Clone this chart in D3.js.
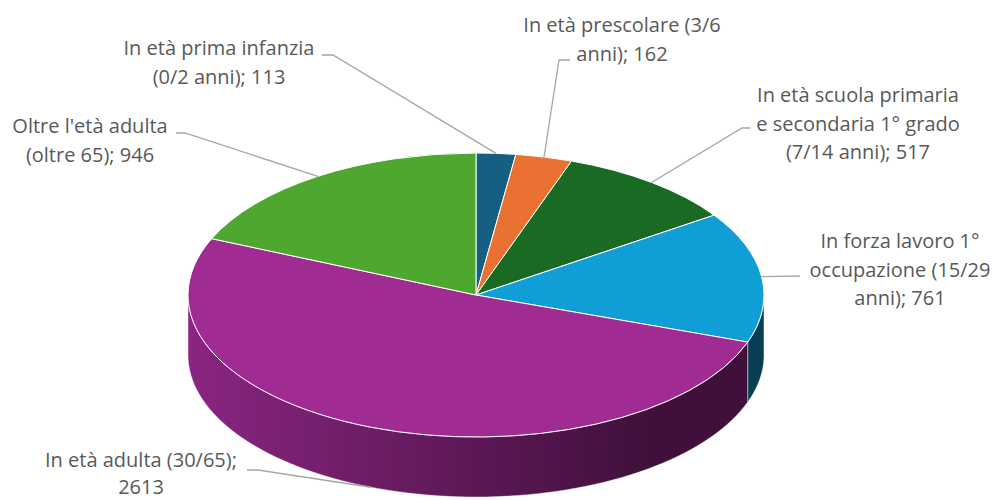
<!DOCTYPE html>
<html>
<head>
<meta charset="utf-8">
<script src="https://cdn.jsdelivr.net/npm/d3@7"></script>
<style>
  html, body { margin: 0; padding: 0; background: #fff; }
  svg { display: block; }
</style>
</head>
<body>
<svg id="chart" width="996" height="500"></svg>
<script>
// ---- data ----
const categories = [
  "In età prima infanzia (0/2 anni)",
  "In età prescolare (3/6 anni)",
  "In età scuola primaria e secondaria 1° grado (7/14 anni)",
  "In forza lavoro 1° occupazione (15/29 anni)",
  "In età adulta (30/65)",
  "Oltre l'età adulta (oltre 65)"
];
const values = [113, 162, 517, 761, 2613, 946];
const labelLines = [
  ["In età prima infanzia", "(0/2 anni); 113"],
  ["In età prescolare (3/6", "anni); 162"],
  ["In età scuola primaria", "e secondaria 1° grado", "(7/14 anni); 517"],
  ["In forza lavoro 1°", "occupazione (15/29", "anni); 761"],
  ["In età adulta (30/65);", "2613"],
  ["Oltre l'età adulta", "(oltre 65); 946"]
];
const topColors = ["#156082", "#E97132", "#196B24", "#0F9ED5", "#A02B93", "#4EA72E"];
const sideStops = [
  ["#0e4460", "#082f42"],
  ["#b5561f", "#6e3112"],
  ["#145a1c", "#0b3510"],
  ["#083e52", "#083e52"],
  ["#8a2581", "#40103b"],
  ["#3d8724", "#244f15"]
];

// ---- layout ----
const cx = 476, cy = 295, rx = 288, ry = 142, depth = 60;
// label layout: text center x, first baseline y, line spacing, elbow points
const labelLayout = [
  { x: 219, y: 55,  lh: 28.5, elbow: [[322, 55], [333, 55]] },
  { x: 622, y: 32,  lh: 28.5, elbow: [[570, 60], [559, 60]] },
  { x: 858, y: 102, lh: 28.5, elbow: [[750, 128], [742, 128]] },
  { x: 900, y: 248, lh: 28.5, elbow: [[800, 276]] },
  { x: 141, y: 467, lh: 27,   elbow: [[247, 470], [258, 470]] },
  { x: 90,  y: 133, lh: 28.5, elbow: [[176, 133], [185, 133]] }
];

const svg = d3.select("#chart");
const defs = svg.append("defs");

const pie = d3.pie().sort(null).value(d => d)
  .startAngle(0).endAngle(2 * Math.PI);
const arcs = pie(values);

const px = t => cx + rx * Math.sin(t);
const py = t => cy - ry * Math.cos(t);

// gradients for side walls
arcs.forEach((a, i) => {
  const g = defs.append("linearGradient")
    .attr("id", "side" + i)
    .attr("gradientUnits", "userSpaceOnUse")
    .attr("x1", cx - rx).attr("x2", cx + rx).attr("y1", 0).attr("y2", 0);
  g.append("stop").attr("offset", "0%").attr("stop-color", sideStops[i][0]);
  g.append("stop").attr("offset", "80%").attr("stop-color", sideStops[i][1]);
  g.append("stop").attr("offset", "100%").attr("stop-color", sideStops[i][1]);
});

// side walls (front half only: angles between PI/2 and 3PI/2)
const sideG = svg.append("g");
arcs.forEach((a, i) => {
  const a0 = Math.max(a.startAngle, Math.PI / 2);
  const a1 = Math.min(a.endAngle, 3 * Math.PI / 2);
  if (a1 <= a0) return;
  const n = 80;
  const ts = d3.range(n + 1).map(k => a0 + (a1 - a0) * k / n);
  const top = ts.map(t => [px(t), py(t)]);
  const bot = ts.slice().reverse().map(t => [px(t), py(t) + depth]);
  const p = d3.line()(top.concat(bot)) + "Z";
  sideG.append("path")
    .attr("d", p)
    .attr("fill", `url(#side${i})`)
    .attr("stroke", "#ffffff")
    .attr("stroke-opacity", 0.55)
    .attr("stroke-width", 0.8);
});

// top faces using d3.arc scaled vertically
const arcGen = d3.arc().innerRadius(0).outerRadius(rx);
const topG = svg.append("g")
  .attr("transform", `translate(${cx},${cy}) scale(1,${ry / rx})`);
topG.selectAll("path")
  .data(arcs)
  .join("path")
  .attr("d", arcGen)
  .attr("fill", (d, i) => topColors[i])
  .attr("stroke", "#ffffff")
  .attr("stroke-width", 1)
  .attr("vector-effect", "non-scaling-stroke");

// leader lines
const leaderG = svg.append("g");
arcs.forEach((a, i) => {
  const mid = (a.startAngle + a.endAngle) / 2;
  let anchor = [px(mid), py(mid)];
  if (i === 4) anchor = [px(mid), py(mid) + depth];
  const pts = labelLayout[i].elbow.concat([anchor]);
  leaderG.append("path")
    .attr("d", d3.line()(pts))
    .attr("fill", "none")
    .attr("stroke", "#a6a6a6")
    .attr("stroke-width", 1.3);
});

// labels
const labelG = svg.append("g")
  .attr("font-family", "'Open Sans', Lato, sans-serif")
  .attr("font-size", 20)
  .attr("fill", "#595959")
  .attr("text-anchor", "middle");
labelLines.forEach((lines, i) => {
  const L = labelLayout[i];
  const t = labelG.append("text").attr("x", L.x).attr("y", L.y);
  lines.forEach((ln, k) => {
    t.append("tspan").attr("x", L.x).attr("y", L.y + k * L.lh).text(ln);
  });
});
</script>
</body>
</html>
